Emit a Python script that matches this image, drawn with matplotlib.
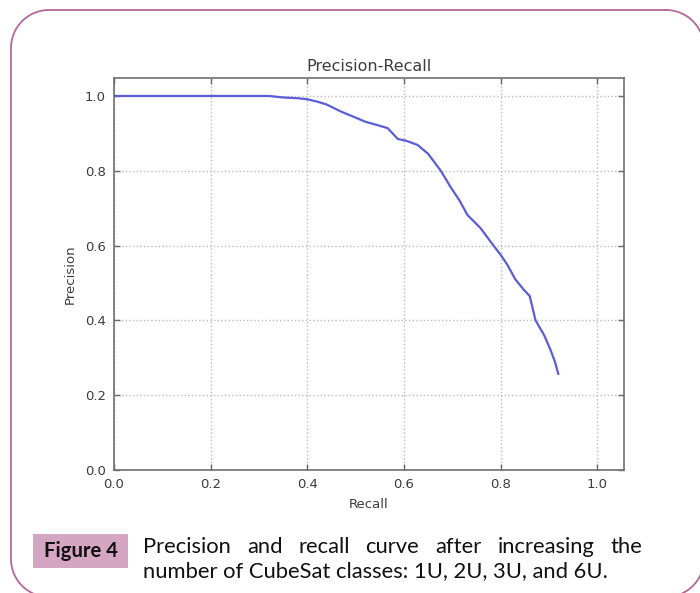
import matplotlib
matplotlib.use("Agg")
import matplotlib.pyplot as plt
import numpy as np
from matplotlib.patches import Rectangle

recall = [0.0, 0.32, 0.35, 0.38, 0.40, 0.42, 0.44, 0.47, 0.50, 0.52, 0.545, 0.566,
          0.587, 0.605, 0.628, 0.65, 0.676, 0.696, 0.715, 0.731, 0.758, 0.785, 0.80,
          0.814, 0.83, 0.847, 0.86, 0.872, 0.89, 0.903, 0.912, 0.919]
precision = [1.0, 1.0, 0.996, 0.994, 0.991, 0.985, 0.977, 0.958, 0.942, 0.931, 0.922, 0.914,
             0.885, 0.880, 0.869, 0.845, 0.80, 0.757, 0.72, 0.682, 0.647, 0.60, 0.575,
             0.548, 0.51, 0.483, 0.465, 0.40, 0.36, 0.321, 0.29, 0.257]
ticks = [0.0, 0.2, 0.4, 0.6, 0.8, 1.0]
tick_labels = ["0.0", "0.2", "0.4", "0.6", "0.8", "1.0"]
title = "Precision-Recall"
xlabel = "Recall"
ylabel = "Precision"
fig_label = "Figure 4"
caption_line1 = "Precision and recall curve after increasing the"
caption_line2 = "number of CubeSat classes: 1U, 2U, 3U, and 6U."

W, H = 700, 593
fig = plt.figure(figsize=(W / 100, H / 100), dpi=100)
fig.patch.set_facecolor("white")

# overlay in pixel units (y downward) for frame and caption box
bg = fig.add_axes([0, 0, 1, 1], zorder=0)
bg.set_xlim(0, W)
bg.set_ylim(H, 0)
bg.axis("off")

fl, ft, fr, fb, r = 11, 10, 704, 597, 38
px, py = [], []
for (cx, cy, a0) in [(fr - r, ft + r, -90), (fr - r, fb - r, 0),
                     (fl + r, fb - r, 90), (fl + r, ft + r, 180)]:
    ang = np.radians(np.linspace(a0, a0 + 90, 30))
    px.extend(cx + r * np.cos(ang))
    py.extend(cy + r * np.sin(ang))
px.append(px[0])
py.append(py[0])
bg.plot(px, py, color="#b3689c", linewidth=1.3, clip_on=False)
bg.add_patch(Rectangle((33, 534), 95, 34, facecolor="#d4a6c2", edgecolor="none"))

ax = fig.add_axes([114 / W, 1 - 470 / H, (624 - 114) / W, (470 - 78) / H], zorder=1)
txtc = "#3c3c3c"
ax.plot(recall, precision, color="#5c5cd8", linewidth=1.6)
ax.set_xlim(0, 1.055)
ax.set_ylim(0, 1.048)
ax.set_xticks(ticks)
ax.set_xticklabels(tick_labels)
ax.set_yticks(ticks)
ax.set_yticklabels(tick_labels)
ax.grid(True, linestyle=":", color="#bbbbbb", linewidth=1.0)
ax.tick_params(direction="in", top=True, right=True, length=4, width=1,
               color="#666666", labelcolor=txtc, labelsize=9.5, pad=6)
for s in ax.spines.values():
    s.set_color("#707070")
    s.set_linewidth(1.2)
ax.set_title(title, fontsize=11.5, color=txtc, pad=5)
ax.set_xlabel(xlabel, fontsize=9.5, color=txtc, labelpad=5)
ax.set_ylabel(ylabel, fontsize=9.5, color=txtc, labelpad=6)

# caption
fig.text(80.5 / W, 1 - 551 / H, fig_label, ha="center", va="center",
         fontsize=14.6, fontweight="bold", family="Lato", color="#111111")

cap_kw = dict(fontsize=15.8, family="Lato", color="#111111", va="baseline", ha="left")
x0, x1 = 143, 642
renderer = fig.canvas.get_renderer()
words = caption_line1.split()
texts = [fig.text(0, 1 - 553 / H, w, **cap_kw) for w in words]
widths = [t.get_window_extent(renderer).width for t in texts]
gap = ((x1 - x0) - sum(widths)) / (len(words) - 1)
x = x0
for t, w in zip(texts, widths):
    t.set_x(x / W)
    x += w + gap
fig.text(x0 / W, 1 - 577 / H, caption_line2, **cap_kw)

fig.savefig("out.png", dpi=100)
